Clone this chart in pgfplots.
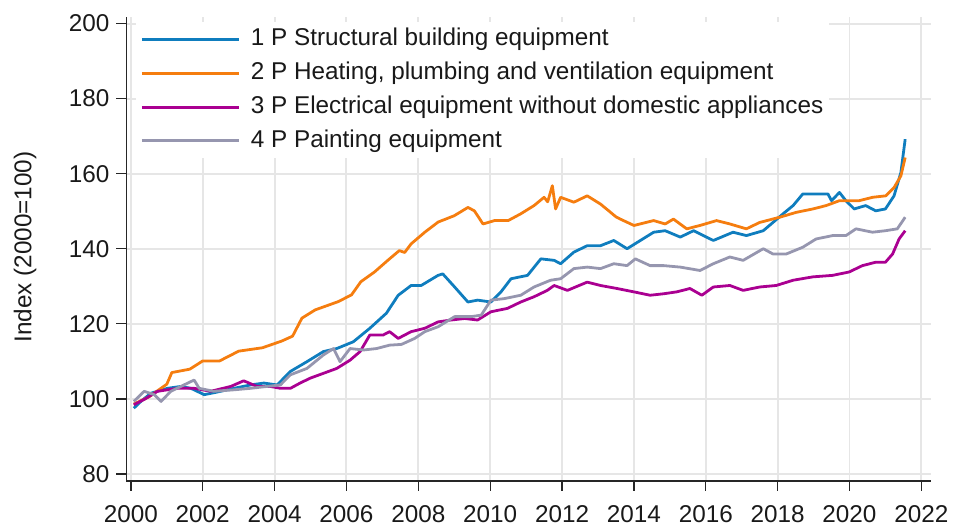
\documentclass[border=0pt]{standalone}
\usepackage{pgfplots}
\pgfplotsset{compat=1.18}
\usepackage{fontspec}
\setmainfont{Liberation Sans}
\definecolor{cblue}{RGB}{15,125,190}
\definecolor{corange}{RGB}{245,125,15}
\definecolor{cmag}{RGB}{170,0,145}
\definecolor{cgrey}{RGB}{150,150,175}
\definecolor{gridc}{RGB}{230,230,230}
\begin{document}
\begin{tikzpicture}
\begin{axis}[
  scale only axis, width=404pt, height=233pt,
  xmin=1999.875, xmax=2022.257, ymin=78.17, ymax=201.78,
  axis x line*=bottom, axis y line*=left,
  axis line style={line width=0.8pt, black!85},
  xtick={2000,2002,...,2022}, ytick={80,100,...,200},
  x tick label style={/pgf/number format/1000 sep={}, yshift=-4pt},
  /pgf/number format/assume math mode=true,
  tick align=outside, major tick length=5pt,
  tick style={line width=0.7pt, black!85},
  grid=major, major grid style={draw=gridc, line width=1pt},
  font=\fontsize{12.2}{14}\selectfont,
  ticklabel style={font=\fontsize{12.2}{14}\selectfont, text=black!90},
  ylabel={Index (2000=100)},
  ylabel style={at={(axis description cs:-0.126,0.504)}, anchor=center, font=\fontsize{12.2}{14}\selectfont, text=black!90},
  legend cell align=left,
  legend image code/.code={\draw[#1, line width=1.5pt] (0pt,0pt) -- (49pt,0pt);},
  legend style={at={(axis description cs:0.012,0.99)}, anchor=north west, draw=none, fill=white,
    font=\fontsize{12.2}{14}\selectfont, row sep=3.5pt, inner sep=2pt, text=black!90,
    nodes={inner sep=1pt, text height=9pt, text depth=2.5pt},
    /tikz/every odd column/.append style={column sep=4pt}},
  every axis plot/.append style={line width=1.4pt, line join=round},
]
\addplot[cblue] coordinates {
(2000.08,97.5)(2000.3,99.5)(2000.56,101.5)(2001.02,102.8)(2001.39,103.3)(2001.67,102.8)
(2002.04,101.1)(2002.4,101.8)(2002.87,102.8)(2003.33,103.7)(2003.7,104.2)(2004.07,103.7)
(2004.44,107.3)(2004.9,109.9)(2005.36,112.6)(2005.73,113.4)(2006.19,115.2)(2006.65,118.8)
(2007.11,122.8)(2007.44,127.6)(2007.8,130.2)(2008.08,130.2)(2008.55,132.9)(2008.68,133.3)
(2009.01,129.8)(2009.38,125.8)(2009.65,126.3)(2010.02,125.8)(2010.3,128.5)(2010.58,132.0)
(2011.04,132.9)(2011.41,137.3)(2011.78,136.9)(2011.96,136.0)(2012.33,139.1)(2012.7,140.8)
(2013.07,140.8)(2013.44,142.2)(2013.81,140.0)(2014.18,142.2)(2014.55,144.4)(2014.87,144.8)
(2015.29,143.1)(2015.66,144.8)(2016.21,142.2)(2016.76,144.4)(2017.13,143.5)(2017.6,144.8)
(2017.87,147.0)(2018.15,149.3)(2018.43,151.5)(2018.7,154.6)(2019.07,154.6)(2019.4,154.6)
(2019.5,152.8)(2019.72,155.0)(2019.9,152.8)(2020.13,150.6)(2020.45,151.5)(2020.73,150.1)
(2021.0,150.6)(2021.24,154.1)(2021.43,160.3)(2021.55,169.2)
};
\addlegendentry{1 P Structural building equipment}
\addplot[corange] coordinates {
(2000.08,98.6)(2000.5,100.5)(2001.0,103.9)(2001.14,107.0)(2001.64,107.9)(2002.0,110.1)
(2002.47,110.1)(2003.0,112.7)(2003.66,113.6)(2004.2,115.4)(2004.5,116.7)(2004.76,121.5)
(2005.13,123.7)(2005.77,125.9)(2006.14,127.7)(2006.4,131.2)(2006.78,133.8)(2007.15,136.9)
(2007.47,139.5)(2007.62,139.0)(2007.8,141.3)(2008.18,144.4)(2008.55,147.1)(2009.0,148.8)(2009.38,151.0)
(2009.56,150.1)(2009.8,146.6)(2010.12,147.5)(2010.5,147.5)(2010.85,149.3)(2011.22,151.5)
(2011.5,153.7)(2011.6,152.5)(2011.73,156.8)(2011.82,150.6)(2011.96,153.7)(2012.33,152.4)(2012.7,154.1)
(2013.07,151.9)(2013.35,149.7)(2013.5,148.5)(2013.62,147.9)(2014.0,146.2)(2014.55,147.5)(2014.87,146.6)
(2015.1,147.9)(2015.47,145.3)(2015.84,146.2)(2016.3,147.5)(2016.67,146.6)(2017.13,145.3)
(2017.5,147.0)(2018.06,148.4)(2018.52,149.7)(2018.98,150.6)(2019.35,151.5)(2019.72,152.8)
(2020.27,152.8)(2020.64,153.7)(2021.01,154.1)(2021.24,156.3)(2021.43,159.4)(2021.55,164.3)
};
\addlegendentry{2 P Heating, plumbing and ventilation equipment}
\addplot[cmag] coordinates {
(2000.08,98.4)(2000.4,100.0)(2000.74,102.0)(2001.3,102.8)(2001.76,102.8)(2002.22,102.0)
(2002.78,103.3)(2003.14,104.8)(2003.51,103.3)(2003.88,103.3)(2004.16,102.8)(2004.44,102.8)
(2004.71,104.2)(2004.99,105.5)(2005.36,106.8)(2005.73,108.1)(2006.1,110.3)(2006.38,112.6)
(2006.65,117.0)(2007.02,117.0)(2007.2,117.9)(2007.44,116.1)(2007.8,117.9)(2008.18,118.8)
(2008.55,120.5)(2008.91,121.0)(2009.29,121.4)(2009.65,121.0)(2010.02,123.2)(2010.48,124.1)
(2010.85,125.8)(2011.22,127.2)(2011.59,128.9)(2011.78,130.2)(2012.15,128.9)(2012.7,131.1)
(2013.07,130.2)(2013.53,129.4)(2014.0,128.5)(2014.45,127.6)(2014.83,128.0)(2015.19,128.5)
(2015.56,129.4)(2015.89,127.6)(2016.21,129.8)(2016.67,130.2)(2017.04,128.9)(2017.5,129.8)
(2017.96,130.2)(2018.43,131.6)(2018.98,132.5)(2019.53,132.9)(2019.99,133.8)(2020.36,135.5)
(2020.73,136.4)(2021.0,136.4)(2021.2,138.6)(2021.38,142.6)(2021.55,144.8)
};
\addlegendentry{3 P Electrical equipment without domestic appliances}
\addplot[cgrey] coordinates {
(2000.08,99.3)(2000.37,102.0)(2000.65,101.1)(2000.84,99.3)(2001.11,102.0)(2001.39,103.3)
(2001.76,105.0)(2001.9,102.8)(2002.31,102.0)(2002.87,102.4)(2003.33,102.8)(2003.79,103.3)
(2004.16,103.7)(2004.44,106.4)(2004.9,108.1)(2005.36,111.7)(2005.64,113.4)(2005.82,109.9)
(2006.1,113.4)(2006.47,113.0)(2006.84,113.4)(2007.2,114.3)(2007.53,114.5)(2007.9,116.1)
(2008.18,117.9)(2008.55,119.2)(2009.01,121.9)(2009.47,121.9)(2009.75,122.3)(2010.02,126.3)
(2010.39,126.7)(2010.85,127.6)(2011.22,129.8)(2011.68,131.6)(2011.96,132.0)(2012.33,134.7)
(2012.7,135.1)(2013.07,134.7)(2013.44,136.0)(2013.81,135.5)(2014.04,137.3)(2014.45,135.5)
(2014.83,135.5)(2015.29,135.1)(2015.84,134.2)(2016.21,136.0)(2016.67,137.8)(2017.04,136.9)
(2017.6,140.0)(2017.87,138.6)(2018.24,138.6)(2018.7,140.4)(2019.07,142.6)(2019.53,143.5)
(2019.9,143.5)(2020.18,145.3)(2020.64,144.4)(2021.0,144.8)(2021.33,145.3)(2021.55,148.4)
};
\addlegendentry{4 P Painting equipment}
\end{axis}
\path[use as bounding box] ([xshift=-63.5pt,yshift=-22pt]current axis.south west) rectangle ([xshift=10pt,yshift=8.5pt]current axis.north east);
\end{tikzpicture}
\end{document}
